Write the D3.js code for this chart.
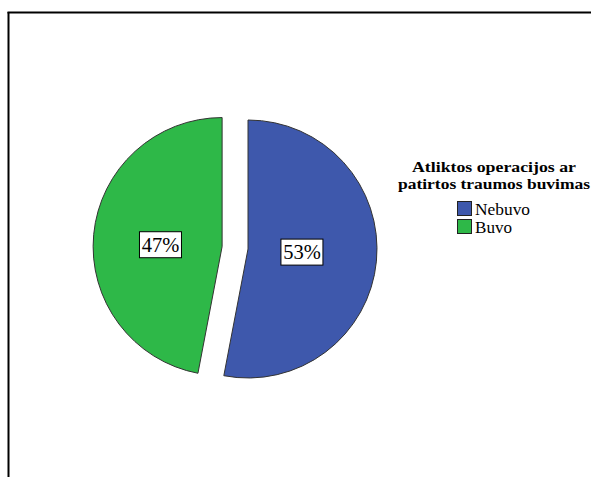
<!DOCTYPE html>
<html><head><meta charset="utf-8">
<script src="https://cdn.jsdelivr.net/npm/d3@7"></script>
<style>body{margin:0;background:#fff}svg{display:block}</style>
</head><body>
<script>
const categories = ["Nebuvo", "Buvo"];
const values = [53, 47];
const colors = ["#3E58AC", "#2EB848"];
const legendTitle = ["Atliktos operacijos ar", "patirtos traumos buvimas"];
const explodedIndex = 1;

const W = 591, H = 477;
const serif = "'Liberation Serif', 'Times New Roman', Times, serif";
const svg = d3.select("body").append("svg").attr("width", W).attr("height", H);

// frame
svg.append("line").attr("x1", 8.5).attr("y1", 12).attr("x2", 8.5).attr("y2", H).attr("stroke", "#000").attr("stroke-width", 2);
svg.append("line").attr("x1", 7.5).attr("y1", 12.5).attr("x2", W).attr("y2", 12.5).attr("stroke", "#000").attr("stroke-width", 2);

const cx = 248, cy = 249, r = 129, explode = 26;
const total = d3.sum(values);
const pie = d3.pie().sort(null).value(d => d)(values);
const arc = d3.arc().innerRadius(0).outerRadius(r);
const labelR = [0.42, 0.48];
const labelDy = [-2, 4];

const g = svg.append("g").attr("transform", `translate(${cx},${cy})`);
pie.forEach((p, i) => {
  const mid = (p.startAngle + p.endAngle) / 2;
  const off = i === explodedIndex ? explode : 0;
  const dx = Math.sin(mid) * off, dy = -Math.cos(mid) * off;
  const sg = g.append("g").attr("transform", `translate(${dx},${dy})`);
  sg.append("path").attr("d", arc(p)).attr("fill", colors[i]).attr("stroke", "#333").attr("stroke-width", 1);
  const lr = r * labelR[i];
  const lx = Math.sin(mid) * lr, ly = -Math.cos(mid) * lr + labelDy[i];
  const txt = Math.round(values[i] / total * 100) + "%";
  sg.append("rect").attr("x", lx - 21).attr("y", ly - 13).attr("width", 42).attr("height", 26)
    .attr("fill", "#fff").attr("stroke", "#000").attr("stroke-width", 1);
  sg.append("text").attr("x", lx).attr("y", ly + 7).attr("text-anchor", "middle")
    .attr("font-family", serif).attr("font-size", 20.5).attr("fill", "#000").text(txt);
});

// legend
const lg = svg.append("g");
const titleW = [164, 192];
legendTitle.forEach((s, i) => {
  lg.append("text").attr("x", 494).attr("y", 172 + i * 17).attr("text-anchor", "middle")
    .attr("font-family", serif).attr("font-weight", "bold").attr("font-size", 15.5)
    .attr("textLength", titleW[i]).attr("lengthAdjust", "spacingAndGlyphs").text(s);
});
const itemW = [55, 37];
categories.forEach((c, i) => {
  const y = 201 + i * 18;
  lg.append("rect").attr("x", 457.5).attr("y", y + 0.5).attr("width", 14).attr("height", 14).attr("fill", colors[i]).attr("stroke", "#222").attr("stroke-width", 1);
  lg.append("text").attr("x", 475).attr("y", y + 14).attr("font-family", serif).attr("font-size", 16)
    .attr("textLength", itemW[i]).attr("lengthAdjust", "spacingAndGlyphs").text(c);
});
</script>
</body></html>
